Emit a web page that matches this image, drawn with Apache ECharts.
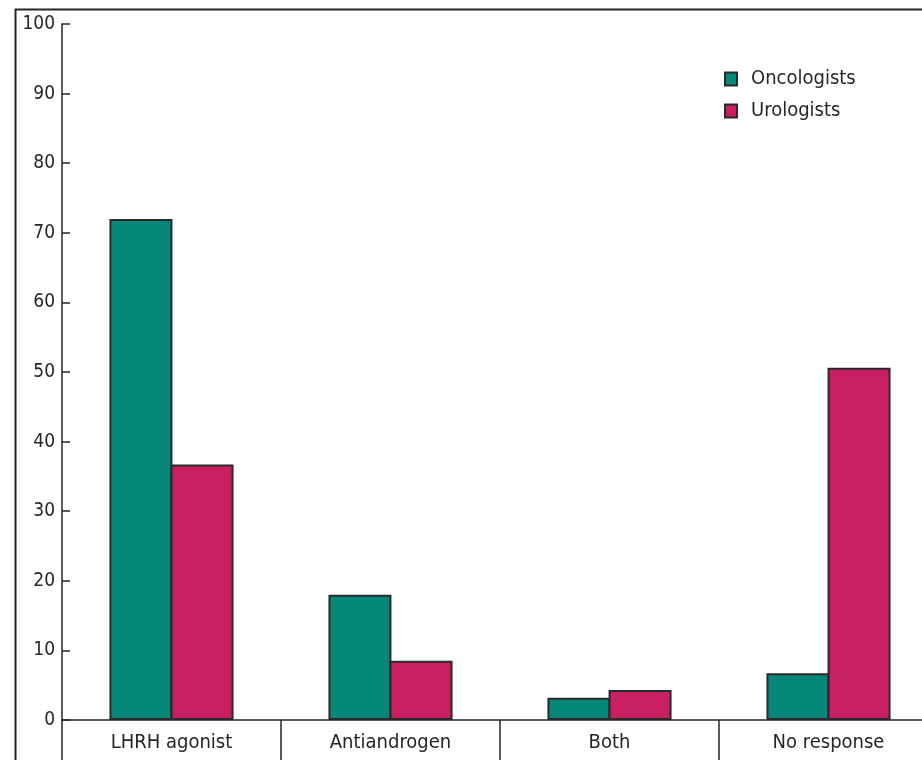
<!DOCTYPE html>
<html>
<head>
<meta charset="utf-8">
<script src="https://cdn.jsdelivr.net/npm/echarts@6/dist/echarts.min.js"></script>
<style>
  html, body { margin: 0; padding: 0; background: #fff; }
  #chart { width: 922px; height: 760px; }
</style>
</head>
<body>
<div id="chart"></div>
<script>
// Preferred treatment, share of respondents (%)
const categories = ['LHRH agonist', 'Antiandrogen', 'Both', 'No response'];
const oncologists = [72, 18, 3.2, 6.7];
const urologists = [36.7, 8.5, 4.3, 50.6];
const yTicks = { min: 0, max: 100, interval: 10 };

const FONT = '"Liberation Sans Narrow", "DejaVu Sans Condensed", "Noto Sans", sans-serif';
const INK = '#262626';

const chart = echarts.init(document.getElementById('chart'), null, { renderer: 'canvas' });

chart.setOption({
  animation: false,
  backgroundColor: '#fff',
  textStyle: { fontFamily: FONT },
  graphic: [{
    type: 'rect',
    left: 13, top: 7,
    shape: { width: 1000, height: 800 },
    style: { fill: 'none', stroke: INK, lineWidth: 2 },
    silent: true
  }],
  legend: {
    orient: 'vertical',
    left: 719, top: 64,
    icon: 'rect',
    itemWidth: 12, itemHeight: 13,
    itemGap: 12,
    textStyle: { fontFamily: FONT, fontSize: 20, color: INK, padding: [0, 0, 0, 9] },
    data: ['Oncologists', 'Urologists']
  },
  grid: {
    left: 62, top: 24, width: 876, height: 696,
    containLabel: false, outerBoundsMode: 'none'
  },
  xAxis: {
    type: 'category',
    data: categories,
    axisLine: { lineStyle: { color: INK, width: 1.5 } },
    axisTick: { show: true, length: 42, interval: 0, lineStyle: { color: INK, width: 1.5 } },
    axisLabel: { fontFamily: FONT, fontSize: 20, color: INK, margin: 13, interval: 0 }
  },
  yAxis: {
    type: 'value',
    min: yTicks.min, max: yTicks.max, interval: yTicks.interval,
    axisLine: { show: true, lineStyle: { color: INK, width: 1.5 } },
    axisTick: { show: true, inside: true, length: 8, lineStyle: { color: INK, width: 1.5 } },
    axisLabel: { fontFamily: FONT, fontSize: 19, color: INK, margin: 7 },
    splitLine: { show: false }
  },
  series: [
    {
      name: 'Oncologists', type: 'bar', data: oncologists,
      barWidth: 63, barGap: '-3%',
      itemStyle: { color: '#07877a', borderColor: '#2a2a2a', borderWidth: 2 }
    },
    {
      name: 'Urologists', type: 'bar', data: urologists,
      barWidth: 63, barGap: '-3%',
      itemStyle: { color: '#c81f62', borderColor: '#2a2a2a', borderWidth: 2 }
    }
  ]
});
</script>
</body>
</html>
